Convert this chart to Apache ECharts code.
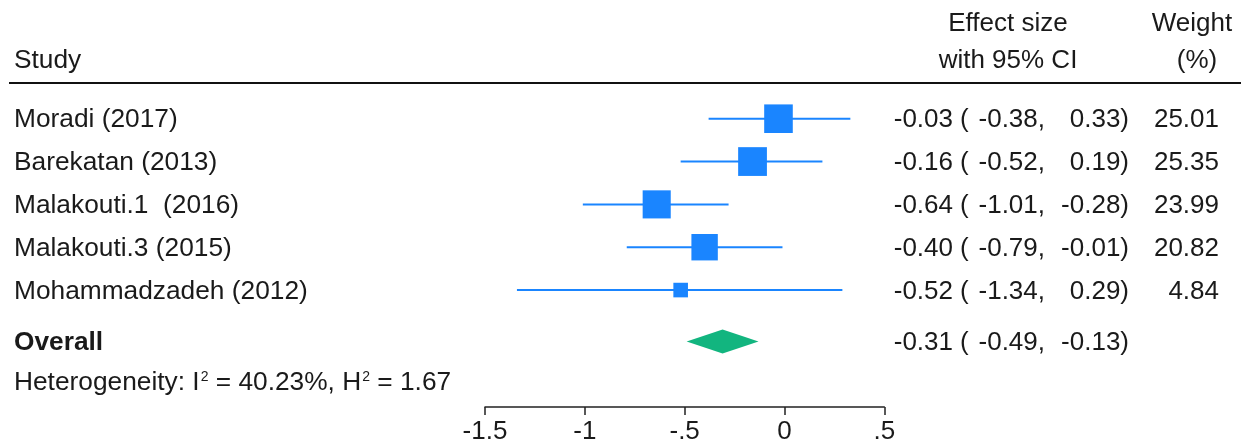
<!DOCTYPE html>
<html><head><meta charset="utf-8">
<script src="https://cdn.jsdelivr.net/npm/echarts@6/dist/echarts.min.js"></script>
<style>html,body{margin:0;padding:0;background:#fff}#c{width:1241px;height:442px}</style>
</head><body><div id="c"></div>
<script>
// ---- data ----
const studies = ['Moradi (2017)', 'Barekatan (2013)', 'Malakouti.1  (2016)', 'Malakouti.3 (2015)', 'Mohammadzadeh (2012)'];
const effect = [-0.03, -0.16, -0.64, -0.40, -0.52];
const lower = [-0.38, -0.52, -1.01, -0.79, -1.34];
const upper = [0.33, 0.19, -0.28, -0.01, 0.29];
const weight = [25.01, 25.35, 23.99, 20.82, 4.84];
const overallLabel = ['Overall'];
const overallEffect = [-0.31];
const overallLower = [-0.49];
const overallUpper = [-0.13];
const heterogeneityI2 = ['40.23%'];
const heterogeneityH2 = ['1.67'];
const xTicks = [-1.5, -1, -0.5, 0, 0.5];
const xTickLabels = ['-1.5', '-1', '-.5', '0', '.5'];

// ---- layout ----
const FONT = '"Liberation Sans", Arial, sans-serif';
const FS_L = 26.3;
const FS_R = 26;
const TXT = '#1a1a1a';
const BLUE = '#1a85ff';
const GREEN = '#12b57f';
const overallRow = 5.2;
const hetRow = 6.17;
const X_STUDY = 14, X_EST = 953, X_PAREN = 960, X_LO = 1045, X_HI = 1129, X_W = 1219;

function fmt(v) { return v.toFixed(2); }

const chart = echarts.init(document.getElementById('c'), null, {renderer: 'canvas'});

function txt(x, y, text, align, bold, fs) {
  return {type: 'text', x: x, y: y, style: {text: text, fill: TXT, font: (bold ? 'bold ' : '') + (fs || FS_R) + 'px ' + FONT, align: align, verticalAlign: 'middle'}};
}

const rowData = studies.map((s, i) => [effect[i], lower[i], upper[i], weight[i], i]);

const option = {
  animation: false,
  backgroundColor: '#fff',
  grid: {left: 485, right: 356.7, top: 33.04, bottom: 35, containLabel: false, outerBoundsMode: 'none'},
  xAxis: {
    type: 'value', min: xTicks[0], max: xTicks[xTicks.length - 1], interval: 0.5,
    axisLine: {show: true, onZero: false, lineStyle: {color: '#222', width: 1.5}},
    axisTick: {show: true, inside: false, length: 8, lineStyle: {color: '#222', width: 1.5}},
    axisLabel: {fontSize: FS_R, fontFamily: FONT, color: TXT, margin: 12,
      formatter: v => { const k = xTicks.findIndex(t => Math.abs(t - v) < 1e-9); return k >= 0 ? xTickLabels[k] : ''; }},
    splitLine: {show: false}
  },
  yAxis: {type: 'value', min: -2, max: 6.73, inverse: true, show: false, splitLine: {show: false}},
  series: [
    {
      type: 'custom', name: 'studies', clip: false,
      data: rowData,
      encode: {x: [0, 1, 2], y: 4},
      renderItem: (params, api) => {
        const row = api.value(4);
        const l = api.coord([api.value(1), row]);
        const h = api.coord([api.value(2), row]);
        const c = api.coord([api.value(0), row]);
        const s = 3.6 + 5.0 * Math.sqrt(api.value(3));
        return {type: 'group', children: [
          {type: 'line', shape: {x1: l[0], y1: l[1], x2: h[0], y2: h[1]}, style: {stroke: BLUE, lineWidth: 2}},
          {type: 'rect', shape: {x: c[0] - s / 2, y: c[1] - s / 2, width: s, height: s}, style: {fill: BLUE}}
        ]};
      }
    },
    {
      type: 'custom', name: 'overall', clip: false,
      data: overallEffect.map((e, i) => [e, overallLower[i], overallUpper[i], overallRow]),
      encode: {x: [0, 1, 2], y: 3},
      renderItem: (params, api) => {
        const row = api.value(3);
        const l = api.coord([api.value(1), row]);
        const h = api.coord([api.value(2), row]);
        const c = api.coord([api.value(0), row]);
        const hh = 12;
        return {type: 'polygon', shape: {points: [[l[0], l[1]], [c[0], c[1] - hh], [h[0], h[1]], [c[0], c[1] + hh]]}, style: {fill: GREEN}};
      }
    },
    {
      type: 'custom', name: 'studyText', clip: false, silent: true,
      data: rowData,
      encode: {y: 4},
      renderItem: (params, api) => {
        const i = params.dataIndex;
        const y = api.coord([0, api.value(4)])[1] + 1.5;
        return {type: 'group', children: [
          txt(X_STUDY, y, studies[i], 'left', false, FS_L),
          txt(X_EST, y, fmt(effect[i]), 'right'),
          txt(X_PAREN, y, '(', 'left'),
          txt(X_LO, y, fmt(lower[i]) + ',', 'right'),
          txt(X_HI, y, fmt(upper[i]) + ')', 'right'),
          txt(X_W, y, fmt(weight[i]), 'right')
        ]};
      }
    },
    {
      type: 'custom', name: 'overallText', clip: false, silent: true,
      data: overallEffect.map((e, i) => [e, overallRow]),
      encode: {y: 1},
      renderItem: (params, api) => {
        const i = params.dataIndex;
        const y = api.coord([0, api.value(1)])[1] + 1.5;
        return {type: 'group', children: [
          txt(X_STUDY, y, overallLabel[i], 'left', true, FS_L),
          txt(X_EST, y, fmt(overallEffect[i]), 'right'),
          txt(X_PAREN, y, '(', 'left'),
          txt(X_LO, y, fmt(overallLower[i]) + ',', 'right'),
          txt(X_HI, y, fmt(overallUpper[i]) + ')', 'right')
        ]};
      }
    },
    {
      type: 'custom', name: 'hetText', clip: false, silent: true,
      data: [[0, hetRow]],
      encode: {y: 1},
      renderItem: (params, api) => {
        const y = api.coord([0, api.value(1)])[1];
        return {type: 'text', x: X_STUDY, y: y, style: {
          text: '{a|Heterogeneity: I}{s|2}{a| = ' + heterogeneityI2[0] + ', H}{s|2}{a| = ' + heterogeneityH2[0] + '}',
          verticalAlign: 'middle', align: 'left',
          rich: {
            a: {fontSize: FS_L, fontFamily: FONT, fill: TXT, lineHeight: 27},
            s: {fontSize: 14, fontFamily: FONT, fill: TXT, lineHeight: 14, verticalAlign: 'top', padding: [1, 0, 0, 1]}
          }
        }};
      }
    }
  ],
  graphic: [
    {type: 'line', shape: {x1: 9, y1: 83, x2: 1241, y2: 83}, style: {stroke: '#111', lineWidth: 2.2}},
    txt(X_STUDY, 61, 'Study', 'left', false, FS_L),
    txt(1008, 24, 'Effect size', 'center'),
    txt(1008, 61, 'with 95% CI', 'center'),
    txt(1192, 24, 'Weight', 'center'),
    txt(1197, 61, '(%)', 'center')
  ]
};
chart.setOption(option);
</script>
</body></html>
